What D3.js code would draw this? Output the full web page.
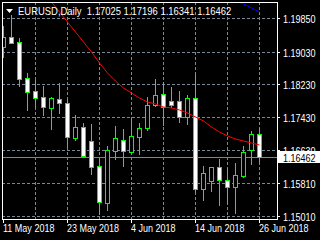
<!DOCTYPE html>
<html>
<head>
<meta charset="utf-8">
<script src="https://cdn.jsdelivr.net/npm/d3@7"></script>
<style>
  body { margin: 0; background: #000; overflow: hidden; }
  text { font-family: "Liberation Sans", Arial, sans-serif; font-size: 11px; }
</style>
</head>
<body>
<div id="chart"></div>
<script>
// EURUSD daily bars, 11 May - 26 Jun 2018
var dates = [
  "2018-05-11", "2018-05-14", "2018-05-15", "2018-05-16", "2018-05-17", "2018-05-18",
  "2018-05-21", "2018-05-22", "2018-05-23", "2018-05-24", "2018-05-25",
  "2018-05-28", "2018-05-29", "2018-05-30", "2018-05-31", "2018-06-01",
  "2018-06-04", "2018-06-05", "2018-06-06", "2018-06-07", "2018-06-08",
  "2018-06-11", "2018-06-12", "2018-06-13", "2018-06-14", "2018-06-15",
  "2018-06-18", "2018-06-19", "2018-06-20", "2018-06-21", "2018-06-22",
  "2018-06-25", "2018-06-26"
];
var opens = [
  1.19141, 1.19386, 1.19255, 1.18383, 1.18066, 1.17919,
  1.17650, 1.17870, 1.17772, 1.16917, 1.17186,
  1.16843, 1.16232, 1.15328, 1.16599, 1.16868,
  1.16575, 1.16941, 1.17161, 1.17723, 1.17992,
  1.17821, 1.17821, 1.17430, 1.17894, 1.15670,
  1.15866, 1.16208, 1.15890, 1.15719, 1.15988,
  1.16623, 1.17025
];
var highs = [
  1.19679, 1.19948, 1.19386, 1.18530, 1.18359, 1.18212,
  1.17943, 1.18286, 1.17894, 1.17503, 1.17308,
  1.17283, 1.16452, 1.16746, 1.17234, 1.17161,
  1.17430, 1.17308, 1.17943, 1.18383, 1.18310,
  1.18188, 1.18090, 1.17992, 1.18506, 1.16257,
  1.16232, 1.16428, 1.16208, 1.16330, 1.16746,
  1.17112, 1.17196
];
var lows = [
  1.18897, 1.19230, 1.18188, 1.17601, 1.17674, 1.17479,
  1.17137, 1.17528, 1.16697, 1.16868, 1.16452,
  1.16037, 1.15059, 1.15157, 1.16403, 1.16232,
  1.16526, 1.16526, 1.17112, 1.17699, 1.17234,
  1.17674, 1.17308, 1.17259, 1.15597, 1.15401,
  1.15621, 1.15279, 1.15328, 1.15083, 1.15963,
  1.16281, 1.16341
];
var closes = [
  1.19386, 1.19239, 1.18366, 1.18041, 1.17894, 1.17674,
  1.17894, 1.17772, 1.16941, 1.17186, 1.16477,
  1.16208, 1.15352, 1.16623, 1.16917, 1.16599,
  1.16966, 1.17161, 1.17723, 1.17968, 1.17674,
  1.17723, 1.17430, 1.17894, 1.15670, 1.16061,
  1.16208, 1.15890, 1.15719, 1.16012, 1.16575,
  1.17015, 1.16462
];
// moving averages (red = shorter, blue = longer); null where not shown
var maRed = [
  null, null, null, null, null, 1.20486,
  1.20241, 1.19997, 1.19752, 1.19508, 1.19263,
  1.19019, 1.18750, 1.18506, 1.18310, 1.18139,
  1.18017, 1.17894, 1.17797, 1.17748, 1.17674,
  1.17650, 1.17601, 1.17528, 1.17430, 1.17332,
  1.17186, 1.17063, 1.16966, 1.16892, 1.16843,
  1.16794, 1.16746
];
var maBlue = [
  null, null, null, null, null, null,
  null, null, null, null, null,
  null, null, null, null, null,
  null, null, null, null, null,
  null, null, null, null, null,
  null, null, 1.20339, 1.20266, 1.20192,
  1.20094, 1.19997
];
var priceTicks = [1.19850, 1.19030, 1.18230, 1.17430, 1.16630, 1.15810, 1.15010];
var dateTicks = ["2018-05-11", "2018-05-23", "2018-06-04", "2018-06-14", "2018-06-26"];
var symbol = "EURUSD,Daily";

var width = 320, height = 240;
var plotLeft = 2, plotTop = 2, plotRight = 277, plotBottom = 219;
var gridColor = "#778899";
var candleColor = "#00ff00";
var squeeze = 0.82; // chart font is narrower than Liberation Sans

var svg = d3.select("#chart")
  .append("svg")
  .attr("width", width)
  .attr("height", height)
  .style("display", "block")
  .style("background", "#000");

var x = d3.scalePoint()
  .domain(dates)
  .range([3.5, 259.5]);

var y = d3.scaleLinear()
  .domain([1.15010, 1.19850])
  .range([216, 18]);

function py(v) { return Math.round(y(v)) + 0.5; }

function label(parent, tx, ty, str, fill, sx) {
  return parent.append("text")
    .attr("transform", "translate(" + tx + "," + ty + ") scale(" + (sx || squeeze) + ",1)")
    .attr("fill", fill)
    .style("white-space", "pre")
    .text(str);
}

svg.append("clipPath")
  .attr("id", "plot")
  .append("rect")
  .attr("x", plotLeft + 1)
  .attr("y", plotTop + 1)
  .attr("width", plotRight - plotLeft - 1)
  .attr("height", plotBottom - plotTop - 1);

// grid
var grid = svg.append("g")
  .attr("stroke", gridColor)
  .attr("stroke-dasharray", "3,2")
  .attr("shape-rendering", "crispEdges");

grid.selectAll("line.h")
  .data(priceTicks)
  .enter()
  .append("line")
  .attr("x1", plotLeft)
  .attr("x2", plotRight)
  .attr("y1", py)
  .attr("y2", py);

grid.selectAll("line.v")
  .data(dates.filter(function(d, i) { return i > 0 && i % 4 === 0; }))
  .enter()
  .append("line")
  .attr("x1", x)
  .attr("x2", x)
  .attr("y1", plotTop)
  .attr("y2", plotBottom);

// current price line
var last = closes[closes.length - 1];
svg.append("line")
  .attr("x1", plotLeft)
  .attr("x2", plotRight)
  .attr("y1", py(last))
  .attr("y2", py(last))
  .attr("stroke", gridColor)
  .attr("shape-rendering", "crispEdges");

var plot = svg.append("g").attr("clip-path", "url(#plot)");

var bars = dates.map(function(d, i) {
  return { date: d, open: opens[i], high: highs[i], low: lows[i], close: closes[i] };
});

var candle = plot.selectAll("g.candle")
  .data(bars)
  .enter()
  .append("g")
  .attr("shape-rendering", "crispEdges");

candle.append("line")
  .attr("x1", function(d) { return x(d.date); })
  .attr("x2", function(d) { return x(d.date); })
  .attr("y1", function(d) { return py(d.high); })
  .attr("y2", function(d) { return py(d.low); })
  .attr("stroke", candleColor);

candle.append("rect")
  .attr("x", function(d) { return x(d.date) - 2; })
  .attr("y", function(d) { return py(Math.max(d.open, d.close)); })
  .attr("width", 4)
  .attr("height", function(d) {
    return Math.max(1, py(Math.min(d.open, d.close)) - py(Math.max(d.open, d.close)));
  })
  .attr("fill", function(d) { return d.close < d.open ? "#fff" : "#000"; })
  .attr("stroke", candleColor);

// moving averages
function maLine(values) {
  return d3.line()
    .defined(function(d, i) { return values[i] != null; })
    .x(function(d) { return x(d); })
    .y(function(d, i) { return y(values[i]); })(dates);
}

plot.append("path")
  .attr("d", maLine(maRed))
  .attr("fill", "none")
  .attr("stroke", "#ff0000");

plot.append("path")
  .attr("d", maLine(maBlue))
  .attr("fill", "none")
  .attr("stroke", "#0000ff");

// frame
svg.append("rect")
  .attr("x", plotLeft + 0.5)
  .attr("y", plotTop + 0.5)
  .attr("width", plotRight - plotLeft)
  .attr("height", plotBottom - plotTop)
  .attr("fill", "none")
  .attr("stroke", "#fff")
  .attr("shape-rendering", "crispEdges");

// price axis
var fmt = d3.format(".5f");
svg.selectAll("line.ptick")
  .data(priceTicks)
  .enter()
  .append("line")
  .attr("x1", plotRight)
  .attr("x2", plotRight + 3)
  .attr("y1", py)
  .attr("y2", py)
  .attr("stroke", "#fff")
  .attr("shape-rendering", "crispEdges");

priceTicks.forEach(function(v) {
  label(svg, 283, py(v) + 4, fmt(v), "#fff");
});

// current price label
svg.append("rect")
  .attr("x", plotRight + 1)
  .attr("y", py(last) - 6.5)
  .attr("width", width - plotRight - 1)
  .attr("height", 12)
  .attr("fill", "#fff");

label(svg, 283, py(last) + 4, fmt(last), "#000");

// date axis
var parse = d3.timeParse("%Y-%m-%d");
var dfmt = d3.timeFormat("%-d %b %Y");

svg.selectAll("line.dtick")
  .data(dateTicks)
  .enter()
  .append("line")
  .attr("x1", x)
  .attr("x2", x)
  .attr("y1", plotBottom)
  .attr("y2", plotBottom + 4)
  .attr("stroke", "#fff")
  .attr("shape-rendering", "crispEdges");

dateTicks.forEach(function(d) {
  label(svg, x(d) - 0.5, 232, dfmt(parse(d)), "#fff");
});

// title
svg.append("path")
  .attr("d", "M6,9 L13,9 L9.5,13 Z")
  .attr("fill", "#fff");

var n = closes.length - 1;
label(svg, 18, 15,
  symbol + "  " + [opens[n], highs[n], lows[n], closes[n]].map(fmt).join(" "),
  "#fff", 0.86);
</script>
</body>
</html>
